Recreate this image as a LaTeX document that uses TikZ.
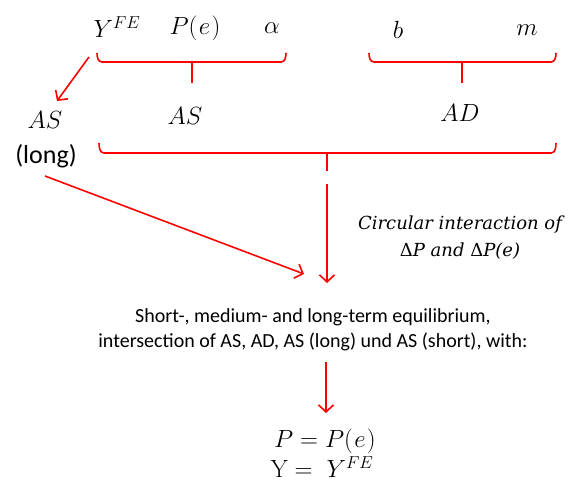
\documentclass[tikz,border=0pt]{standalone}
\usepackage[no-math]{fontspec}
\setmainfont{Carlito}
\newfontfamily\circfont{DejaVu Serif}
\usetikzlibrary{arrows.meta}
\definecolor{lred}{RGB}{255,0,0}
\tikzset{
  conn/.style={draw=lred, line width=1.6pt, -{Straight Barb[length=7pt,width=15pt]}},
  bracel/.style={draw=lred, line width=1.6pt},
  mathlbl/.style={font=\fontsize{23}{26}\selectfont, inner sep=0pt},
  body/.style={font=\fontsize{20}{25}\selectfont, inner sep=0pt, align=center},
}
\begin{document}
\begin{tikzpicture}[x=1pt,y=-1pt]
\useasboundingbox (0,0) rectangle (573,486);
% top labels
\node[mathlbl] (yfe) at (117,27) {$Y^{FE}$};
\node[mathlbl] (pe) at (195,28) {$P(\mkern1mu e\mkern1mu)$};
\node[mathlbl] (alpha) at (272,28) {$\alpha$};
\node[mathlbl] (b) at (398,30) {$b$};
\node[mathlbl] (m) at (527,30) {$m$};
% braces
\draw[bracel] (97,53) to[out=-90,in=180] (102,62) -- (281,62) to[out=0,in=-90] (286,53);
\draw[bracel] (192,62) -- (192,83);
\draw[bracel] (369,53) to[out=-90,in=180] (374,62) -- (551,62) to[out=0,in=-90] (556,53);
\draw[bracel] (462,62) -- (462,83);
\node[mathlbl] (as) at (185,116) {$AS$};
\node[mathlbl] (ad) at (460,113) {$AD$};
\node[mathlbl] (aslong) at (45,120) {$AS$};
\node[body, font=\fontsize{26}{30}\selectfont] (long) at (46,156) {(long)};
\draw[bracel] (99,143) to[out=-90,in=180] (104,153) -- (551,153) to[out=0,in=-90] (556,143);
\coordinate (stemtop) at (327,153);
\coordinate (stembot) at (327,171);
\draw[bracel] (stemtop) -- (stembot);
% arrows
\coordinate (a1s) at (89,57);
\coordinate (a1e) at (57,101);
\draw[conn] (a1s) -- (a1e);
\coordinate (a2s) at (327,184);
\coordinate (a2e) at (327,283);
\draw[conn] (a2s) -- (a2e);
\coordinate (a3s) at (45,176);
\coordinate (a3e) at (304,274);
\draw[conn] (a3s) -- (a3e);
\node[inner sep=0pt, font=\circfont\itshape\fontsize{18}{27}\selectfont, align=center] (circ) at (460,238) {Circular interaction of\\{\upshape Δ}P and {\upshape Δ}P(e)};
\node[body] (eq) at (313,330) {Short-, medium- and long-term equilibrium,\\intersection of AS, AD, AS (long) und AS (short), with:};
\coordinate (a4s) at (326,362);
\coordinate (a4e) at (326,413);
\draw[conn] (a4s) -- (a4e);
\node[mathlbl] (res1) at (325,441) {$P = P(\mkern1mu e\mkern1mu)$};
\node[mathlbl] (res2) at (322,467) {$\mathrm{Y} =\; Y^{FE}$};
\end{tikzpicture}
\end{document}
